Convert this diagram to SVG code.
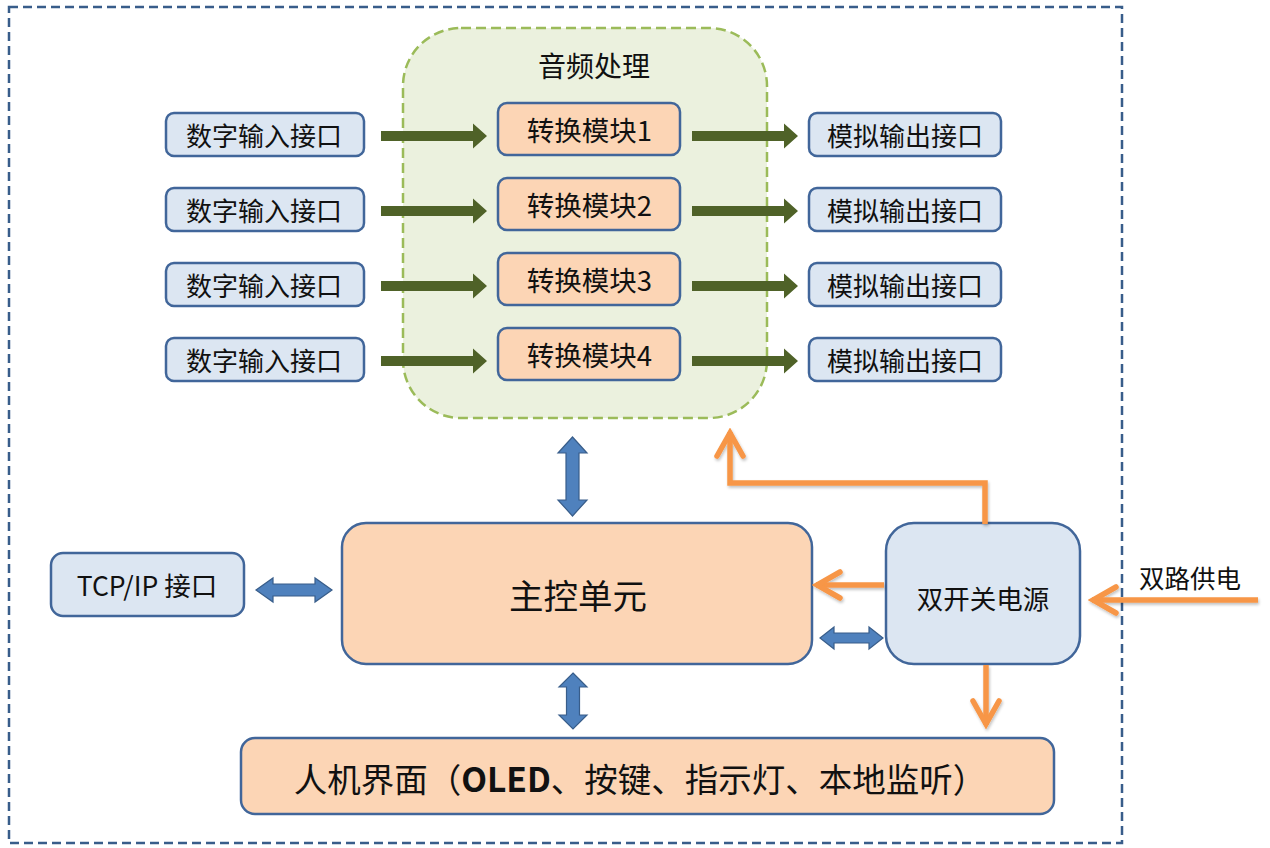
<svg xmlns="http://www.w3.org/2000/svg" width="1270" height="848" viewBox="0 0 1270 848">
<style>
text{font-family:"Noto Sans CJK SC","Noto Sans",sans-serif;fill:#111;text-anchor:middle;dominant-baseline:central}
.blue{fill:#dce6f2;stroke:#41669a;stroke-width:2.5}
.org{fill:#fcd5b5;stroke:#41669a;stroke-width:2.5}
.garr{fill:#4f6228}
.barr{fill:#4f81bd;stroke:#385d8a;stroke-width:1.2}
.oline{fill:none;stroke:#f79646;stroke-width:5.5;stroke-linejoin:miter}
.t26{font-size:26px}
.t27{font-size:27.5px}
</style>
<defs>
<path id="garrow" d="M0,-5 H92 V-12.5 L106,0 L92,12.5 V5 H0 Z"/>
<marker id="chev" markerUnits="userSpaceOnUse" viewBox="-28 -16 32 32" refX="0" refY="0" markerWidth="32" markerHeight="32" orient="auto">
<path d="M-24,-13 L-1,0 L-24,13" fill="none" stroke="#f79646" stroke-width="5.5" stroke-linecap="round" stroke-linejoin="miter"/>
</marker>
<filter id="sh" x="-20%" y="-20%" width="140%" height="140%">
<feGaussianBlur in="SourceAlpha" stdDeviation="1.5"/>
<feOffset dx="1" dy="2" result="b"/>
<feComponentTransfer><feFuncA type="linear" slope="0.25"/></feComponentTransfer>
<feMerge><feMergeNode/><feMergeNode in="SourceGraphic"/></feMerge>
</filter>
</defs>
<rect x="0" y="0" width="1270" height="848" fill="#fff"/>
<rect id="frame" x="9" y="7" width="1113" height="836" fill="none" stroke="#385d8a" stroke-width="2.5" stroke-dasharray="9,5"/>

<g id="audio">
<rect x="403" y="28" width="364" height="390" rx="58" fill="#ebf1de" stroke="#9bbb59" stroke-width="2.5" stroke-dasharray="10,5"/>
<text x="594" y="65" style="font-size:28px">音频处理</text>
</g>

<g id="in1"><rect class="blue" x="166" y="113" width="198" height="43" rx="8"/><text class="t26" x="264" y="134.5">数字输入接口</text></g>
<g id="in2"><rect class="blue" x="166" y="188" width="198" height="43" rx="8"/><text class="t26" x="264" y="209.5">数字输入接口</text></g>
<g id="in3"><rect class="blue" x="166" y="263" width="198" height="43" rx="8"/><text class="t26" x="264" y="284.5">数字输入接口</text></g>
<g id="in4"><rect class="blue" x="166" y="338" width="198" height="43" rx="8"/><text class="t26" x="264" y="359.5">数字输入接口</text></g>

<g id="conv1"><rect class="org" x="498" y="103" width="182" height="52" rx="9"/><text class="t27" x="589.5" y="129">转换模块1</text></g>
<g id="conv2"><rect class="org" x="498" y="178" width="182" height="52" rx="9"/><text class="t27" x="589.5" y="204">转换模块2</text></g>
<g id="conv3"><rect class="org" x="498" y="253" width="182" height="52" rx="9"/><text class="t27" x="589.5" y="279">转换模块3</text></g>
<g id="conv4"><rect class="org" x="498" y="328" width="182" height="52" rx="9"/><text class="t27" x="589.5" y="354">转换模块4</text></g>

<g id="out1"><rect class="blue" x="809" y="113" width="192" height="43" rx="8"/><text class="t26" x="905" y="134.5">模拟输出接口</text></g>
<g id="out2"><rect class="blue" x="809" y="188" width="192" height="43" rx="8"/><text class="t26" x="905" y="209.5">模拟输出接口</text></g>
<g id="out3"><rect class="blue" x="809" y="263" width="192" height="43" rx="8"/><text class="t26" x="905" y="284.5">模拟输出接口</text></g>
<g id="out4"><rect class="blue" x="809" y="338" width="192" height="43" rx="8"/><text class="t26" x="905" y="359.5">模拟输出接口</text></g>

<g id="main"><rect class="org" x="342" y="523" width="470" height="141" rx="24"/><text x="578" y="594" style="font-size:34.5px">主控单元</text></g>
<g id="tcp"><rect class="blue" x="51" y="553" width="193" height="63" rx="12"/><text x="147" y="584" style="font-size:26.5px">TCP/IP 接口</text></g>
<g id="power"><rect class="blue" x="886" y="523" width="194" height="141" rx="28"/><text x="983" y="597" style="font-size:26.5px">双开关电源</text></g>
<g id="hmi"><rect class="org" x="241" y="738" width="813" height="76" rx="14"/><text x="640" y="777" style="font-size:33.5px">人机界面（<tspan font-weight="bold">OLED</tspan>、按键、指示灯、本地监听）</text></g>
<g id="supply-label"><text x="1190" y="576" style="font-size:25.5px">双路供电</text></g>

<g id="connectors">
<use class="garr" href="#garrow" x="381" y="136"/>
<use class="garr" href="#garrow" x="381" y="211"/>
<use class="garr" href="#garrow" x="381" y="286"/>
<use class="garr" href="#garrow" x="381" y="361"/>
<use class="garr" href="#garrow" x="692" y="136"/>
<use class="garr" href="#garrow" x="692" y="211"/>
<use class="garr" href="#garrow" x="692" y="286"/>
<use class="garr" href="#garrow" x="692" y="361"/>

<path class="barr" d="M572.5,437 L587,453 L579,453 L579,500 L587,500 L572.5,516 L558,500 L566,500 L566,453 L558,453 Z"/>
<path class="barr" d="M573,673 L587,687 L579.5,687 L579.5,715 L587,715 L573,729 L559,715 L566.5,715 L566.5,687 L559,687 Z"/>
<path class="barr" d="M256,590 L273,578 L273,584 L315,584 L315,578 L332,590 L315,602 L315,596 L273,596 L273,602 Z"/>
<path class="barr" d="M820,638 L834,627 L834,633 L869,633 L869,627 L883,638 L869,649 L869,643 L834,643 L834,649 Z"/>

<g filter="url(#sh)">
<path class="oline" d="M985,524 V483 H730 V432" marker-end="url(#chev)"/>
<path class="oline" d="M884,585 H816" marker-end="url(#chev)"/>
<path class="oline" d="M1258,600 H1092" marker-end="url(#chev)"/>
<path class="oline" d="M986,665 V725" marker-end="url(#chev)"/>
</g>
</g>
</svg>
